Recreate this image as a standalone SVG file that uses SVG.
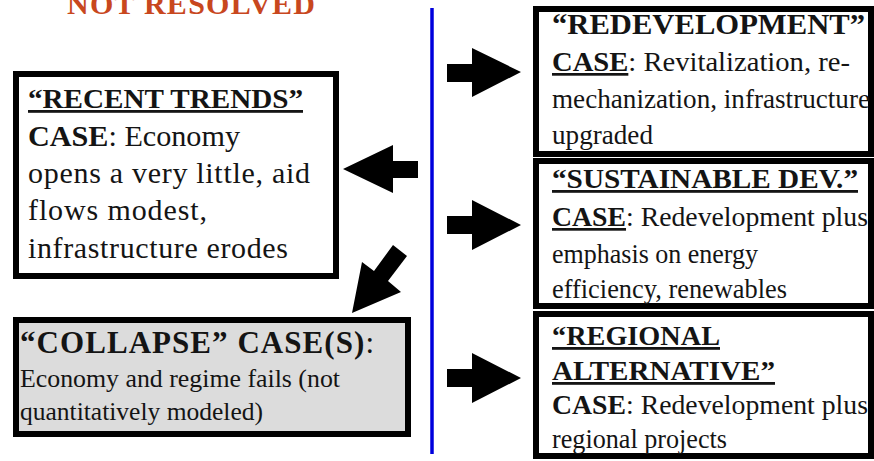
<svg xmlns="http://www.w3.org/2000/svg" width="874" height="461" viewBox="0 0 874 461">
<style>
text{font-family:"Liberation Serif","Times New Roman",serif;fill:#141414}
.s26{font-size:26px}
.s27{font-size:27px}
.s28{font-size:28px}
.s30{font-size:30px}
.s31{font-size:31px}
.b{font-weight:bold}
.u{text-decoration:underline}
.box{fill:#fff;stroke:#000;stroke-width:6}
.gray{fill:#dcdcdc}
.arr{fill:#000}
.title{fill:#c8471e;font-weight:bold;font-size:30px}
</style>
<rect width="874" height="461" fill="#fff"/>
<text class="title" x="67" y="14" textLength="248" lengthAdjust="spacing">NOT RESOLVED</text>
<g id="divider"><line x1="432" y1="8" x2="432" y2="454" stroke="#0000dd" stroke-width="3.5"/></g>
<g id="recent-trends">
<rect class="box" x="16" y="74" width="320" height="202"/>
<text class="s28 b" x="28" y="108" textLength="275" lengthAdjust="spacingAndGlyphs"><tspan class="u">“RECENT TRENDS”</tspan></text>
<text class="s30" x="28" y="146" textLength="212" lengthAdjust="spacingAndGlyphs"><tspan class="b">CASE</tspan>: Economy</text>
<text class="s30" x="28" y="183" textLength="282" lengthAdjust="spacing">opens a very little, aid</text>
<text class="s30" x="28" y="220" textLength="179" lengthAdjust="spacing">flows modest,</text>
<text class="s30" x="28" y="258" textLength="260" lengthAdjust="spacing">infrastructure erodes</text>
</g>
<g id="collapse">
<rect class="box gray" x="16" y="320" width="392" height="114"/>
<text class="s31" x="20" y="353" textLength="354" lengthAdjust="spacing"><tspan class="b">“COLLAPSE” CASE(S)</tspan>:</text>
<text class="s26" x="20" y="387" textLength="320" lengthAdjust="spacingAndGlyphs">Economy and regime fails (not</text>
<text class="s26" x="20" y="420" textLength="243" lengthAdjust="spacingAndGlyphs">quantitatively modeled)</text>
</g>
<g id="redevelopment">
<rect class="box" x="536" y="9" width="335" height="145"/>
<text class="s30 b" x="552" y="34" textLength="313" lengthAdjust="spacingAndGlyphs">“REDEVELOPMENT”</text>
<text class="s27" x="552" y="71" textLength="298" lengthAdjust="spacingAndGlyphs"><tspan class="b u">CASE</tspan>: Revitalization, re-</text>
<text class="s27" x="552" y="108" textLength="318" lengthAdjust="spacingAndGlyphs">mechanization, infrastructure</text>
<text class="s27" x="552" y="144" textLength="101" lengthAdjust="spacingAndGlyphs">upgraded</text>
</g>
<g id="sustainable-dev">
<rect class="box" x="536" y="161" width="335" height="145"/>
<text class="s28 b" x="552" y="188" textLength="306" lengthAdjust="spacingAndGlyphs"><tspan class="u">“SUSTAINABLE DEV.”</tspan></text>
<text class="s27" x="552" y="226" textLength="316" lengthAdjust="spacingAndGlyphs"><tspan class="b u">CASE</tspan>: Redevelopment plus</text>
<text class="s27" x="552" y="263" textLength="206" lengthAdjust="spacingAndGlyphs">emphasis on energy</text>
<text class="s27" x="552" y="298" textLength="235" lengthAdjust="spacingAndGlyphs">efficiency, renewables</text>
</g>
<g id="regional-alternative">
<rect class="box" x="536" y="314" width="335" height="142"/>
<text class="s28 b" x="552" y="345" textLength="168" lengthAdjust="spacingAndGlyphs"><tspan class="u">“REGIONAL</tspan></text>
<text class="s28 b" x="552" y="380" textLength="223" lengthAdjust="spacingAndGlyphs"><tspan class="u">ALTERNATIVE”</tspan></text>
<text class="s27" x="552" y="414" textLength="316" lengthAdjust="spacingAndGlyphs"><tspan class="b">CASE</tspan>: Redevelopment plus</text>
<text class="s27" x="552" y="448" textLength="175" lengthAdjust="spacingAndGlyphs">regional projects</text>
</g>
<g id="connectors">
<polygon class="arr" points="343,169 393,145 393,161 418,161 418,178 393,178 393,193"/>
<polygon class="arr" points="352,313 362,262 374,271 393,245 407,256 388,281 401,292"/>
<polygon class="arr" points="447,64 472,64 472,48 521,72 472,97 472,82 447,82"/>
<polygon class="arr" points="447,216 472,216 472,200 521,225 472,250 472,234 447,234"/>
<polygon class="arr" points="447,369 472,369 472,353 521,378 472,403 472,387 447,387"/>
</g>
</svg>
